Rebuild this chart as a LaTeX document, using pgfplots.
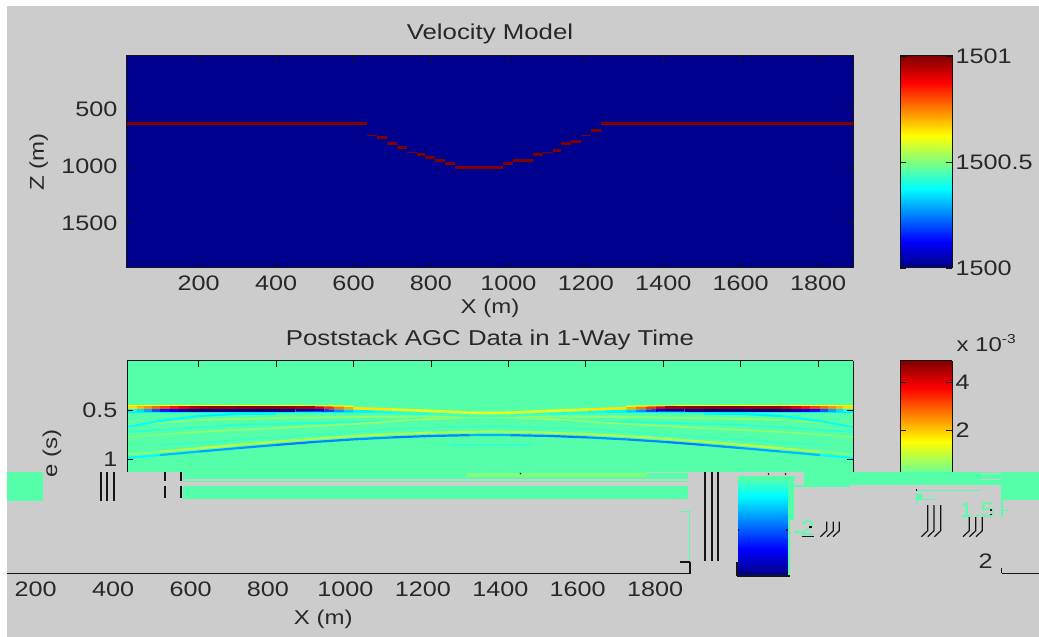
\documentclass[border=0pt]{standalone}
\usepackage{fontspec}
\setmainfont[FakeStretch=1.2]{Liberation Sans}
\usepackage{pgfplots}
\pgfplotsset{compat=1.18}
\definecolor{hg}{RGB}{85,255,170}
\definecolor{hy}{RGB}{130,255,120}
\definecolor{bg}{RGB}{204,204,204}
\definecolor{navy}{RGB}{0,0,143}
\definecolor{dred}{RGB}{128,0,0}
\definecolor{txt}{RGB}{40,40,40}
\definecolor{lin}{RGB}{20,20,20}
\newcommand{\blk}[5][hg]{\addplot[fill=#1,draw=none,forget plot] coordinates {(#2,#3)(#4,#3)(#4,#5)(#2,#5)} --cycle;}
\newcommand{\lne}[5][lin]{\addplot[draw=#1,line width=1.2pt,forget plot] coordinates {(#2,#3)(#4,#5)};}
\newcommand{\foot}[3]{\addplot[draw=lin,line width=1.2pt,forget plot] coordinates {(#1,#2)(#1,530.7)(#1-6.3,#3)};}
\newcommand{\fs}{\fontsize{21}{23}\selectfont}
\pgfplotsset{
  base/.style={scale only axis,axis on top,clip=true,tick align=inside,major tick length=6pt,
    axis line style={lin,line width=1pt},
    tick style={lin,line width=0.9pt},
    tick label style={font=\fs,text=txt,/pgf/number format/assume math mode=true,/pgf/number format/1000 sep={}},
    xticklabel style={yshift=-4pt},
    label style={font=\fontsize{20}{22}\selectfont,text=txt},
    title style={font=\fontsize{21.5}{23}\selectfont,text=txt},
    scaled ticks=false},
  cbar/.style={base,xtick=\empty,view={0}{90},xmin=0,xmax=1,colormap/jet},
  evt/.style={mesh,point meta=explicit,forget plot},
}
\begin{document}
\begin{tikzpicture}[x=1pt,y=1pt]
\fill[white] (0,0) rectangle (1039,637);
\fill[bg] (7,0) rectangle (1039,631);
\useasboundingbox (0,0) rectangle (1039,637);

% ---------- upper image
\begin{axis}[base,at={(127pt,369pt)},anchor=south west,width=726pt,height=212pt,
  xmin=15,xmax=1890,ymin=30,ymax=1890,y dir=reverse,
  axis background/.style={fill=navy},
  xtick={200,400,...,1800},ytick={500,1000,1500},yticklabel style={xshift=-6pt},
  xlabel={X (m)},ylabel={Z (m)},title={Velocity Model},
  title style={at={(axis description cs:0.5,1)},anchor=base,yshift=10pt},
  xlabel style={at={(axis description cs:0.5,0)},anchor=base,yshift=-46pt},
  ylabel style={at={(axis description cs:0,0.5)},anchor=base,yshift=83pt},
  unbounded coords=jump]
\addplot[color=dred,line width=3pt,line cap=butt] coordinates {
 (15,626)(636,626) (636,nan)
 (661,749)(687,749) (687,nan)
 (687,802)(713,802) (713,nan)
 (713,831)(739,831) (739,nan)
 (765,898)(785,898) (785,nan)
 (785,922)(811,922) (811,nan)
 (811,951)(837,951) (837,nan)
 (837,977)(863,977) (863,nan)
 (863,1004)(986,1004) (986,nan)
 (986,977)(1012,977) (1012,nan)
 (1012,951)(1064,951) (1064,nan)
 (1064,898)(1089,898) (1089,nan)
 (1115,857)(1136,857) (1136,nan)
 (1136,802)(1162,802) (1162,nan)
 (1162,776)(1187,776) (1187,nan)
 (1213,682)(1238,682) (1238,nan)
 (1238,626)(1890,626)};
\addplot[color=dred,line width=1.4pt,line cap=butt] coordinates {
 (636,726)(661,726) (661,nan)
 (739,877)(765,877) (765,nan)
 (1089,877)(1115,877) (1115,nan)
 (1187,726)(1213,726)};
\end{axis}

% ---------- upper colour bar
\begin{axis}[cbar,at={(900pt,369pt)},anchor=south west,width=52pt,height=212pt,
  ymin=1500,ymax=1501,ytick={1500,1500.5,1501},yticklabels={1500,1500.5,1501},
  yticklabel pos=right,ytick pos=both,point meta min=1500,point meta max=1501]
\addplot[surf,shader=interp,point meta=y] coordinates {(0,1500)(1,1500)

(0,1501)(1,1501)};
\end{axis}

% ---------- lower image
\begin{axis}[base,at={(127pt,165pt)},anchor=south west,width=726pt,height=111pt,
  xmin=15,xmax=1890,ymin=0,ymax=1.133,y dir=reverse,
  axis x line*=top,axis y line*=box,axis line style={-},
  axis background/.style={fill=hg},
  xtick={200,400,...,1800},xticklabels={},ytick={0.5,1},yticklabels={0.5,1},yticklabel style={xshift=-6pt},
  point meta min=-4.08,point meta max=4.875,colormap/jet,
  title={Poststack AGC Data in 1-Way Time},
  title style={at={(axis description cs:0.5,1)},anchor=base,yshift=9pt}]
% faint events
\addplot[evt,line width=1.8pt] table[meta=m]{
X t m
850 0.857 -0.3
1055 0.857 -0.3
};
\addplot[evt,line width=1.8pt] table[meta=m]{
X t m
15 0.724 -0.3
300 0.653 -0.3
600 0.622 -0.5
775 0.612 -0.2
};
\addplot[evt,line width=1.8pt] table[meta=m]{
X t m
1130 0.612 -0.2
1305 0.622 -0.5
1605 0.653 -0.3
1890 0.724 -0.3
};
\addplot[evt,line width=1.8pt] table[meta=m]{
X t m
100 0.857 -0.2
300 0.806 -0.2
500 0.755 -0.2
700 0.694 -0.2
952 0.663 -0.2
1205 0.694 -0.2
1405 0.755 -0.2
1605 0.806 -0.2
1805 0.857 -0.2
};
\addplot[evt,line width=1.8pt] table[meta=m]{
X t m
15 0.653 0.4
200 0.602 0.5
400 0.582 0.5
600 0.571 0.5
800 0.566 0.6
952 0.561 0.7
1105 0.566 0.6
1305 0.571 0.5
1505 0.582 0.5
1705 0.602 0.5
1890 0.653 0.4
};
\addplot[evt,line width=1.8pt] table[meta=m]{
X t m
15 0.776 0.4
200 0.724 0.5
400 0.684 0.5
600 0.643 0.6
800 0.592 0.6
952 0.571 0.5
1105 0.592 0.6
1305 0.643 0.6
1505 0.684 0.5
1705 0.724 0.5
1890 0.776 0.4
};
\addplot[evt,line width=2.2pt] table[meta=m]{
X t m
15 0.673 -0.6
100 0.612 -0.7
200 0.561 -0.8
300 0.541 -0.9
400 0.536 -0.7
};
\addplot[evt,line width=2.2pt] table[meta=m]{
X t m
1505 0.536 -0.7
1605 0.541 -0.9
1705 0.561 -0.8
1805 0.612 -0.7
1890 0.673 -0.6
};
\addplot[evt,line width=2pt] table[meta=m]{
X t m
290 0.525 -1.8
430 0.525 -1.8
};
\addplot[evt,line width=2pt] table[meta=m]{
X t m
1475 0.525 -1.8
1615 0.525 -1.8
};
% shallow event, soft fringes
\addplot[evt,line width=1.4pt] table[meta=m]{
X t m
15 0.520 -0.8
400 0.520 -0.9
600 0.520 -0.7
700 0.520 -0.3
};
\addplot[evt,line width=1.4pt] table[meta=m]{
X t m
1205 0.520 -0.3
1305 0.520 -0.7
1505 0.520 -0.9
1890 0.520 -0.8
};
\addplot[evt,line width=1.4pt] table[meta=m]{
X t m
15 0.457 1.4
200 0.457 1.5
400 0.457 1.5
600 0.462 1.3
};
\addplot[evt,line width=1.4pt] table[meta=m]{
X t m
1305 0.462 1.3
1505 0.457 1.5
1705 0.457 1.5
1890 0.457 1.4
};
% shallow event, trough below peak
\addplot[evt,line width=2.6pt] table[meta=m]{
X t m
15 0.503 -0.5
40 0.503 -0.8
60 0.503 -1.2
80 0.503 -1.8
100 0.503 -2.5
125 0.503 -3
150 0.503 -3.4
175 0.503 -3.8
200 0.503 -4
300 0.503 -4
400 0.503 -4
450 0.503 -3.8
500 0.504 -3.5
525 0.505 -2.8
550 0.507 -2
575 0.509 -1.4
600 0.511 -0.9
650 0.517 -0.7
700 0.526 -0.5
800 0.541 -0.3
900 0.559 -0.1
952 0.562 -0.1
1005 0.559 -0.1
1105 0.541 -0.3
1205 0.526 -0.5
1255 0.517 -0.7
1305 0.511 -0.9
1330 0.509 -1.4
1355 0.507 -2
1380 0.505 -2.8
1405 0.504 -3.5
1455 0.503 -3.8
1505 0.503 -4
1605 0.503 -4
1705 0.503 -4
1730 0.503 -3.8
1755 0.503 -3.4
1780 0.503 -3
1805 0.503 -2.5
1825 0.503 -1.8
1845 0.503 -1.2
1865 0.503 -0.8
1890 0.503 -0.5
};
\addplot[evt,line width=2.6pt] table[meta=m]{
X t m
15 0.476 1.6
40 0.476 2
60 0.476 2.3
80 0.476 2.7
100 0.476 3
125 0.476 3.4
150 0.476 3.8
175 0.476 4.2
200 0.476 4.5
300 0.476 4.8
400 0.476 4.8
450 0.476 4.6
500 0.476 4.4
525 0.477 3.7
550 0.478 3
575 0.480 2.5
600 0.482 2
700 0.495 1.5
800 0.510 1.2
900 0.528 1.3
952 0.531 1.3
1005 0.528 1.3
1105 0.510 1.2
1205 0.495 1.5
1305 0.482 2
1330 0.480 2.5
1355 0.478 3
1380 0.477 3.7
1405 0.476 4.4
1455 0.476 4.6
1505 0.476 4.8
1605 0.476 4.8
1705 0.476 4.5
1730 0.476 4.2
1755 0.476 3.8
1780 0.476 3.4
1805 0.476 3
1825 0.476 2.7
1845 0.476 2.3
1865 0.476 2
1890 0.476 1.6
};
% deep event, peak and trough
\addplot[evt,line width=2pt] table[meta=m]{
X t m
15 0.956 0.2
100 0.926 0.6
200 0.891 1.1
300 0.856 1.0
400 0.823 0.9
500 0.792 0.8
600 0.766 0.9
700 0.746 0.8
800 0.731 0.8
900 0.723 0.8
952 0.721 0.8
1005 0.723 0.8
1105 0.731 0.8
1205 0.746 0.8
1305 0.766 0.9
1405 0.792 0.8
1505 0.823 0.9
1605 0.856 1.0
1705 0.891 1.1
1805 0.926 0.6
1890 0.956 0.2
};
\addplot[evt,line width=2.2pt] table[meta=m]{
X t m
15 0.990 -0.6
100 0.960 -0.9
200 0.925 -1.7
300 0.890 -1.3
400 0.857 -2.0
500 0.826 -1.7
600 0.800 -1.8
700 0.780 -1.5
800 0.765 -2.2
900 0.757 -1.4
952 0.755 -1.4
1005 0.757 -1.4
1105 0.765 -2.2
1205 0.780 -1.5
1305 0.800 -1.8
1405 0.826 -1.7
1505 0.857 -2.0
1605 0.890 -1.3
1705 0.925 -1.7
1805 0.960 -0.9
1890 0.990 -0.6
};
\end{axis}

% ---------- lower colour bar, upper piece
\begin{axis}[cbar,at={(900pt,165pt)},anchor=south west,width=52pt,height=111pt,
  axis x line*=top,axis y line*=box,axis line style={-},
  ymin=0.25,ymax=4.875,ytick={2,4},yticklabels={2,4},yticklabel pos=right,ytick pos=both,
  point meta min=-4.08,point meta max=4.875]
\addplot[surf,shader=interp,point meta=y] coordinates {(0,0.25)(1,0.25)

(0,4.875)(1,4.875)};
\end{axis}

% ---------- lower colour bar, displaced piece
\begin{axis}[cbar,hide axis,at={(738pt,61pt)},anchor=south west,width=50pt,height=95pt,
  ymin=-4.08,ymax=-0.12,point meta min=-4.08,point meta max=4.875]
\addplot[surf,shader=interp,point meta=y] coordinates {(0,-4.08)(1,-4.08)

(0,-0.12)(1,-0.12)};
\end{axis}

% ---------- lower x axis, displaced
\begin{axis}[base,at={(7pt,63pt)},anchor=south west,width=683pt,height=20pt,
  xmin=126,xmax=1890,ymin=0,ymax=1,
  axis x line*=bottom,axis y line=none,axis line style={-},
  major tick length=0pt,xtick={200,400,...,1800},ytick=\empty,
  xlabel={X (m)},
  xlabel style={at={(axis description cs:0.463,0)},anchor=base,yshift=-51pt}]
\addplot[draw=none,forget plot] coordinates {(200,0)(1800,0)};
\end{axis}

% ---------- displaced fragments, in picture coordinates
\begin{axis}[scale only axis,hide axis,at={(0pt,0pt)},anchor=south west,width=1039pt,height=637pt,
  xmin=0,xmax=1039,ymin=0,ymax=637,y dir=reverse,clip=true]
% left
\blk{7}{472}{43}{501}
\lne{101}{472}{101}{501}\lne{107}{472}{107}{501}\lne{114}{472}{114}{501}
\lne{165}{472}{165}{481}\lne{165}{486}{165}{498}
\lne{181}{472}{181}{481}\lne{181}{486}{181}{498}
% long band
\blk{183}{472}{688}{479}
\blk{183}{480.5}{688}{482}
\blk{183}{486}{688}{499}
\blk[hy]{467}{473}{647}{477}
\blk[bg]{647}{472}{688}{473}
\lne{520}{473}{521}{474}
% lower axis end
\blk{688.5}{511}{690}{561}
\blk{680}{510.5}{690}{512}
\lne{680}{562}{690}{562}\lne{690}{562}{690}{574}
% three lines
\lne{705}{472}{705}{561}\lne{712}{472}{712}{561}\lne{718}{472}{718}{561}
% colour bar piece
\blk{738}{476}{795}{481}
\lne{768}{473.5}{769}{474.5}\lne{785}{473.5}{786}{474.5}
\blk{788}{481}{789.5}{576}
\blk{789.5}{480}{794}{520}
\lne{737}{562}{737}{576}\lne{737}{576}{790}{576}
\lne{738}{530}{739}{530}\lne{786}{530}{788}{530}
% right band
\blk{794}{485}{850}{487}
\blk{804}{472}{981}{485}
\blk{917}{489.5}{981}{490.5}
\lne{916}{490}{917}{490}
\blk{916}{494}{922}{499}
\blk{916}{499}{935}{500}
\blk{915.5}{494}{916.5}{505}
\blk{981}{472}{1001}{485}
\blk[bg]{981}{473}{1001}{474}
\blk[bg]{981}{479}{1001}{480}
\blk{1001}{472}{1039}{500}
\blk{1001}{500}{1002.5}{517}
\blk{1001}{509.5}{1009}{511}
% hooked strokes
\foot{927.7}{505}{536.7}\foot{934}{505}{536.7}\foot{940.7}{505}{536.7}
\foot{969.3}{517}{536.7}\foot{975.7}{517}{536.7}\foot{982.3}{517}{536.7}
\foot{826.7}{521.7}{536.7}\foot{833.3}{521.7}{536.7}\foot{839.3}{521.7}{536.7}
% broken tick labels
\node[font=\fs,text=hg] at (axis cs:977,510) {1.5};
\node[font=\fs,text=hg] at (axis cs:807.5,528) {2};
\lne{801.7}{536.7}{814}{536.7}
\blk[lin]{809}{525.5}{811.5}{528}
\blk{794}{531}{802}{532.5}
\blk[lin]{990}{509}{991.5}{510.5}\blk[lin]{990}{513.5}{991.5}{515}
\node[font=\fs,text=txt] at (axis cs:985.5,561) {2};
\lne{1001.7}{568}{1001.7}{573.3}\lne{1001.7}{573.3}{1039}{573.3}
% other text
\node[font=\fontsize{20}{22}\selectfont,text=txt,rotate=90] at (axis cs:52,453) {e (s)};
\node[font=\fontsize{20}{22}\selectfont,text=txt,anchor=base west] at (axis cs:953,351) {x 10\raisebox{8pt}{\fontsize{13}{14}\selectfont -3}};
\end{axis}
\end{tikzpicture}
\end{document}
